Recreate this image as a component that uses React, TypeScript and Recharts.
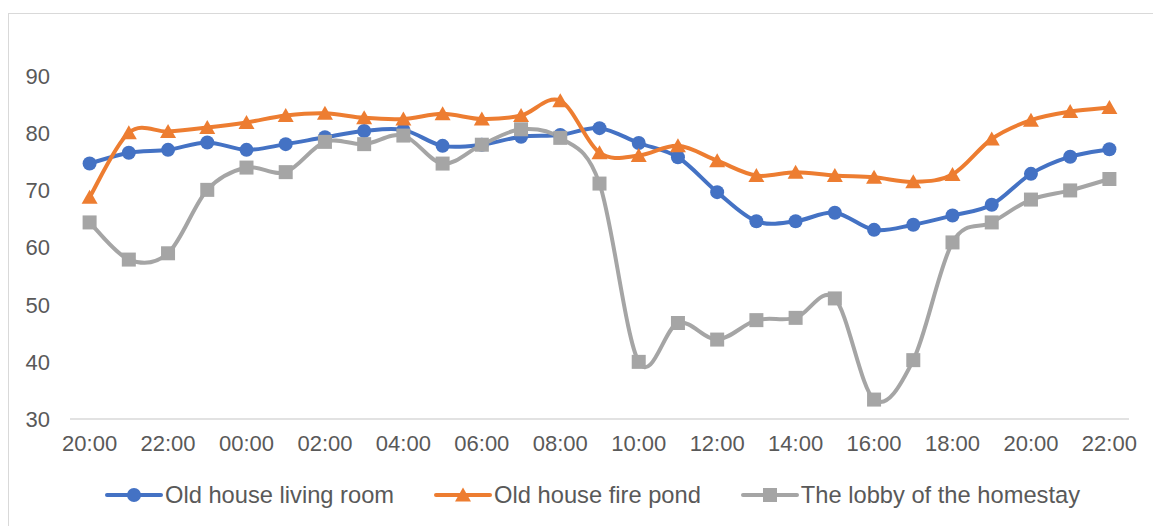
import React from 'react';
import { LineChart, Line, XAxis, YAxis } from 'recharts';

const hours = [
  '20:00', '21:00', '22:00', '23:00', '00:00', '01:00', '02:00', '03:00', '04:00',
  '05:00', '06:00', '07:00', '08:00', '09:00', '10:00', '11:00', '12:00', '13:00',
  '14:00', '15:00', '16:00', '17:00', '18:00', '19:00', '20:00', '21:00', '22:00',
];
const livingRoom = [
  74.7, 76.6, 77.1, 78.4, 77.1, 78.1, 79.3, 80.4, 80.6, 77.8, 78.0, 79.4, 79.7, 80.9,
  78.3, 75.8, 69.7, 64.6, 64.6, 66.1, 63.1, 64.0, 65.6, 67.5, 72.9, 75.9, 77.2,
];
const firePond = [
  68.8, 80.1, 80.3, 81.0, 81.9, 83.1, 83.5, 82.7, 82.5, 83.4, 82.5, 83.1, 85.7, 76.6,
  76.1, 77.8, 75.2, 72.6, 73.2, 72.6, 72.3, 71.5, 72.8, 79.0, 82.3, 83.8, 84.5,
];
const lobby = [
  64.4, 57.9, 59.0, 70.1, 74.0, 73.2, 78.5, 78.1, 79.6, 74.7, 78.0, 80.7, 79.2, 71.2,
  40.0, 46.8, 43.9, 47.3, 47.7, 51.1, 33.4, 40.3, 60.9, 64.4, 68.4, 70.0, 72.0,
];
const yTicks = [30, 40, 50, 60, 70, 80, 90];

const data = hours.map((h, i) => ({
  hour: h,
  living: livingRoom[i],
  fire: firePond[i],
  lobby: lobby[i],
}));

const BLUE = '#4472C4';
const ORANGE = '#ED7D31';
const GRAY = '#A5A5A5';
const TEXT = '#595959';
const FONT = '"Liberation Sans", Arial, sans-serif';

// Excel-like smoothing (Catmull-Rom style bezier)
const excelCurve = (context: any) => {
  let pts: number[][] = [];
  return {
    areaStart() {},
    areaEnd() {},
    lineStart() {
      pts = [];
    },
    point(x: number, y: number) {
      pts.push([+x, +y]);
    },
    lineEnd() {
      const n = pts.length;
      if (!n) return;
      context.moveTo(pts[0][0], pts[0][1]);
      for (let i = 0; i < n - 1; i++) {
        const p0 = pts[Math.max(i - 1, 0)];
        const p1 = pts[i];
        const p2 = pts[i + 1];
        const p3 = pts[Math.min(i + 2, n - 1)];
        context.bezierCurveTo(
          p1[0] + (p2[0] - p0[0]) / 6,
          p1[1] + (p2[1] - p0[1]) / 6,
          p2[0] - (p3[0] - p1[0]) / 6,
          p2[1] - (p3[1] - p1[1]) / 6,
          p2[0],
          p2[1]
        );
      }
    },
  };
};

const Marker = ({ kind, cx, cy, color }: any) => {
  if (kind === 'circle') return <circle cx={cx} cy={cy} r={7} fill={color} />;
  if (kind === 'square') return <rect x={cx - 7} y={cy - 7} width={14} height={14} fill={color} />;
  return (
    <polygon
      points={`${cx},${cy - 7.5} ${cx + 8},${cy + 6.5} ${cx - 8},${cy + 6.5}`}
      fill={color}
    />
  );
};

const makeDot = (kind: string, color: string) => (props: any) => (
  <g key={`${kind}-${props.index}`}>
    <Marker kind={kind} cx={props.cx} cy={props.cy} color={color} />
  </g>
);

const legendItems = [
  { name: 'Old house living room', color: BLUE, kind: 'circle' },
  { name: 'Old house fire pond', color: ORANGE, kind: 'triangle' },
  { name: 'The lobby of the homestay', color: GRAY, kind: 'square' },
];

const App = () => {
  return (
    <div
      style={{
        position: 'absolute',
        left: 0,
        top: 0,
        width: 1153,
        height: 526,
        overflow: 'hidden',
        background: '#fff',
        fontFamily: FONT,
      }}
    >
      <div
        style={{
          position: 'absolute',
          left: 8,
          top: 13,
          width: 1170,
          height: 540,
          border: '1.5px solid #D9D9D9',
        }}
      />
      <LineChart
        width={1153}
        height={526}
        data={data}
        margin={{ top: 19, right: 24, left: 10, bottom: 67 }}
        style={{ position: 'absolute', left: 0, top: 0 }}
      >
        <XAxis
          dataKey="hour"
          interval={1}
          height={40}
          padding={{ left: 19.6, right: 19.6 }}
          tickLine={false}
          tickSize={0}
          tickMargin={16}
          axisLine={{ stroke: '#D9D9D9', strokeWidth: 1.5 }}
          tick={{ fill: TEXT, fontSize: 22, fontFamily: FONT }}
        />
        <YAxis
          domain={[30, 100]}
          ticks={yTicks}
          width={60}
          axisLine={false}
          tickLine={false}
          tickSize={0}
          tickMargin={20}
          tick={{ fill: TEXT, fontSize: 22, fontFamily: FONT }}
        />
        <Line
          dataKey="living"
          type={excelCurve as any}
          stroke={BLUE}
          strokeWidth={4}
          dot={makeDot('circle', BLUE)}
          activeDot={false}
          isAnimationActive={false}
        />
        <Line
          dataKey="fire"
          type={excelCurve as any}
          stroke={ORANGE}
          strokeWidth={4}
          dot={makeDot('triangle', ORANGE)}
          activeDot={false}
          isAnimationActive={false}
        />
        <Line
          dataKey="lobby"
          type={excelCurve as any}
          stroke={GRAY}
          strokeWidth={4}
          dot={makeDot('square', GRAY)}
          activeDot={false}
          isAnimationActive={false}
        />
      </LineChart>
      <div
        style={{
          position: 'absolute',
          left: 105,
          top: 482,
          height: 26,
          display: 'flex',
          alignItems: 'center',
          gap: 40,
        }}
      >
        {legendItems.map((it) => (
          <div key={it.name} style={{ display: 'flex', alignItems: 'center' }}>
            <svg width={58} height={18}>
              <line x1={2} y1={9} x2={56} y2={9} stroke={it.color} strokeWidth={4} strokeLinecap="round" />
              <Marker kind={it.kind} cx={29} cy={9} color={it.color} />
            </svg>
            <span style={{ color: TEXT, fontSize: 23.7, marginLeft: 2, lineHeight: '26px' }}>{it.name}</span>
          </div>
        ))}
      </div>
    </div>
  );
};

export default App;
